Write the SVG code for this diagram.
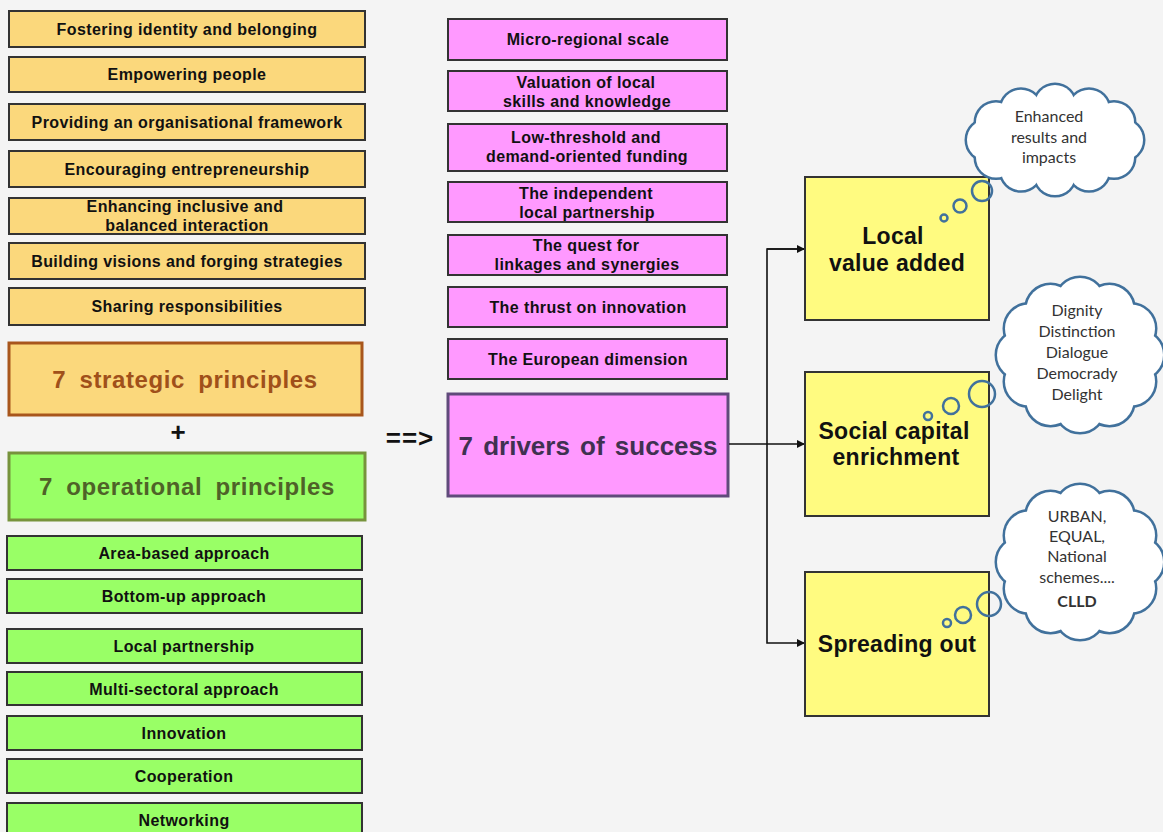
<svg xmlns="http://www.w3.org/2000/svg" xmlns:xlink="http://www.w3.org/1999/xlink" width="1163" height="832" viewBox="0 0 1163 832">
<style>
.bx{stroke:#333;stroke-width:2}
.org{fill:#fbd87c}
.pnk{fill:#ff99ff}
.grn{fill:#99ff66}
.yel{fill:#fffb80;stroke:#333;stroke-width:2}
.t{font-family:"Liberation Sans",Arial,sans-serif;font-weight:bold;font-size:16px;letter-spacing:0.4px;fill:#111;text-anchor:middle}
.big{font-family:"Liberation Sans",Arial,sans-serif;font-weight:bold;text-anchor:middle}
.hd{font-size:24px;letter-spacing:0.6px;word-spacing:6px}
.yt{font-size:23px;letter-spacing:0.3px;fill:#111}
.ct{font-family:Lato,"Open Sans",sans-serif;font-size:16px;fill:#333;text-anchor:middle}
.cs{fill:#fff;stroke:#41719c;stroke-width:5}
.cf{fill:#fff;stroke:none}
.bub{fill:none;stroke:#41719c;stroke-width:2.5}
.ln{fill:none;stroke:#111;stroke-width:1.6}
</style>
<defs>
<marker id="ar" viewBox="0 0 10 10" refX="10" refY="5" markerWidth="8" markerHeight="8" markerUnits="userSpaceOnUse" orient="auto">
<path d="M0,0 L10,5 L0,10 z" fill="#111"/>
</marker>
<g id="cl1">
<circle cx="1123" cy="140" r="20"/><circle cx="1114" cy="157.5" r="20"/><circle cx="1089" cy="170.3" r="20"/><circle cx="1055" cy="175" r="20"/><circle cx="1021" cy="170.3" r="20"/><circle cx="996" cy="157.5" r="20"/><circle cx="987" cy="140" r="20"/><circle cx="996" cy="122.5" r="20"/><circle cx="1021" cy="109.7" r="20"/><circle cx="1055" cy="105" r="20"/><circle cx="1089" cy="109.7" r="20"/><circle cx="1114" cy="122.5" r="20"/><ellipse cx="1055" cy="140" rx="70" ry="38"/>
</g>
<g id="cl2">
<circle cx="1139" cy="355" r="24"/><circle cx="1131" cy="381.5" r="24"/><circle cx="1109.5" cy="400.9" r="24"/><circle cx="1080" cy="408" r="24"/><circle cx="1050.5" cy="400.9" r="24"/><circle cx="1029" cy="381.5" r="24"/><circle cx="1021" cy="355" r="24"/><circle cx="1029" cy="328.5" r="24"/><circle cx="1050.5" cy="309.1" r="24"/><circle cx="1080" cy="302" r="24"/><circle cx="1109.5" cy="309.1" r="24"/><circle cx="1131" cy="328.5" r="24"/><ellipse cx="1080" cy="355" rx="62" ry="55"/>
</g>
</defs>
<rect width="1163" height="832" fill="#f4f4f4"/>

<g id="s1"><rect class="bx org" x="9" y="11" width="356" height="36"/><text class="t" x="187" y="35">Fostering identity and belonging</text></g>
<g id="s2"><rect class="bx org" x="9" y="57" width="356" height="35"/><text class="t" x="187" y="80">Empowering people</text></g>
<g id="s3"><rect class="bx org" x="9" y="104" width="356" height="36"/><text class="t" x="187" y="128">Providing an organisational framework</text></g>
<g id="s4"><rect class="bx org" x="9" y="151" width="356" height="36"/><text class="t" x="187" y="175">Encouraging entrepreneurship</text></g>
<g id="s5"><rect class="bx org" x="9" y="198" width="356" height="36"/><text class="t" x="185" y="212">Enhancing inclusive and</text><text class="t" x="187" y="231">balanced interaction</text></g>
<g id="s6"><rect class="bx org" x="9" y="243" width="356" height="36"/><text class="t" x="187" y="267">Building visions and forging strategies</text></g>
<g id="s7"><rect class="bx org" x="9" y="288" width="356" height="37"/><text class="t" x="187" y="312">Sharing responsibilities</text></g>

<g id="strategic"><rect x="9" y="343" width="353" height="72" fill="#fbd87c" stroke="#a8561c" stroke-width="3"/><text class="big hd" x="185" y="388" fill="#a0501a">7 strategic principles</text></g>
<g id="plus"><text class="big" x="178" y="441" font-size="26" fill="#111">+</text></g>
<g id="operational"><rect x="9" y="453" width="356" height="67" fill="#99ff66" stroke="#77933c" stroke-width="3"/><text class="big hd" x="187" y="495" fill="#4f6228">7 operational principles</text></g>

<g id="o1"><rect class="bx grn" x="7" y="536" width="355" height="34"/><text class="t" x="184" y="559">Area-based approach</text></g>
<g id="o2"><rect class="bx grn" x="7" y="579" width="355" height="34"/><text class="t" x="184" y="602">Bottom-up approach</text></g>
<g id="o3"><rect class="bx grn" x="7" y="629" width="355" height="34"/><text class="t" x="184" y="652">Local partnership</text></g>
<g id="o4"><rect class="bx grn" x="7" y="672" width="355" height="33"/><text class="t" x="184" y="695">Multi-sectoral approach</text></g>
<g id="o5"><rect class="bx grn" x="7" y="716" width="355" height="34"/><text class="t" x="184" y="739">Innovation</text></g>
<g id="o6"><rect class="bx grn" x="7" y="759" width="355" height="34"/><text class="t" x="184" y="782">Cooperation</text></g>
<g id="o7"><rect class="bx grn" x="7" y="803" width="355" height="40"/><text class="t" x="184" y="826">Networking</text></g>

<g id="implies"><text class="big" x="410" y="447" font-size="26" letter-spacing="1" fill="#111">==&gt;</text></g>

<g id="d1"><rect class="bx pnk" x="448" y="19" width="279" height="41"/><text class="t" x="588" y="45">Micro-regional scale</text></g>
<g id="d2"><rect class="bx pnk" x="448" y="71" width="279" height="40"/><text class="t" x="586" y="88">Valuation of local</text><text class="t" x="587" y="107">skills and knowledge</text></g>
<g id="d3"><rect class="bx pnk" x="448" y="124" width="279" height="47"/><text class="t" x="586" y="143">Low-threshold and</text><text class="t" x="587" y="162">demand-oriented funding</text></g>
<g id="d4"><rect class="bx pnk" x="448" y="182" width="279" height="40"/><text class="t" x="586" y="199">The independent</text><text class="t" x="587" y="218">local partnership</text></g>
<g id="d5"><rect class="bx pnk" x="448" y="235" width="279" height="40"/><text class="t" x="586" y="251">The quest for</text><text class="t" x="587" y="270">linkages and synergies</text></g>
<g id="d6"><rect class="bx pnk" x="448" y="287" width="279" height="40"/><text class="t" x="588" y="313">The thrust on innovation</text></g>
<g id="d7"><rect class="bx pnk" x="448" y="339" width="279" height="40"/><text class="t" x="588" y="365">The European dimension</text></g>

<g id="drivers"><rect x="448" y="394" width="280" height="102" fill="#ff99ff" stroke="#604a7b" stroke-width="3"/><text class="big" x="588" y="455" font-size="26" word-spacing="3" fill="#3f3151">7 drivers of success</text></g>

<g id="connectors">
<path class="ln" d="M729,444 H805" marker-end="url(#ar)"/>
<path class="ln" d="M805,249 H767 V643 H805" marker-end="url(#ar)"/>
<path class="ln" d="M767,249 H805" marker-end="url(#ar)"/>
</g>

<g id="local"><rect class="yel" x="805" y="177" width="184" height="143"/><text class="big yt" x="893" y="244">Local</text><text class="big yt" x="897" y="271">value added</text></g>
<g id="social"><rect class="yel" x="805" y="372" width="184" height="144"/><text class="big yt" x="894" y="439">Social capital</text><text class="big yt" x="896" y="465">enrichment</text></g>
<g id="spreading"><rect class="yel" x="805" y="572" width="184" height="144"/><text class="big yt" x="897" y="652">Spreading out</text></g>

<g id="cloud1">
<use xlink:href="#cl1" class="cs"/><use xlink:href="#cl1" class="cf"/>
<circle class="bub" cx="944" cy="218" r="3.5"/><circle class="bub" cx="960" cy="206" r="6.5"/><circle class="bub" cx="982" cy="191" r="10"/>
<text class="ct" x="1049" y="122">Enhanced</text><text class="ct" x="1049" y="143">results and</text><text class="ct" x="1049" y="163">impacts</text>
</g>
<g id="cloud2">
<use xlink:href="#cl2" class="cs"/><use xlink:href="#cl2" class="cf"/>
<circle class="bub" cx="928" cy="416" r="4"/><circle class="bub" cx="951" cy="406" r="8"/><circle class="bub" cx="982" cy="394" r="13"/>
<text class="ct" x="1077" y="316">Dignity</text><text class="ct" x="1077" y="337">Distinction</text><text class="ct" x="1077" y="358">Dialogue</text><text class="ct" x="1077" y="379">Democrady</text><text class="ct" x="1077" y="400">Delight</text>
</g>
<g id="cloud3">
<use xlink:href="#cl2" class="cs" transform="translate(0,207)"/><use xlink:href="#cl2" class="cf" transform="translate(0,207)"/>
<circle class="bub" cx="947" cy="623" r="4"/><circle class="bub" cx="963" cy="615" r="8"/><circle class="bub" cx="989" cy="604" r="12"/>
<text class="ct" x="1077" y="522">URBAN,</text><text class="ct" x="1077" y="542">EQUAL,</text><text class="ct" x="1077" y="562">National</text><text class="ct" x="1077" y="583">schemes....</text><text class="ct" x="1077" y="607" font-weight="bold" font-size="18" fill="#111">CLLD</text>
</g>
</svg>
